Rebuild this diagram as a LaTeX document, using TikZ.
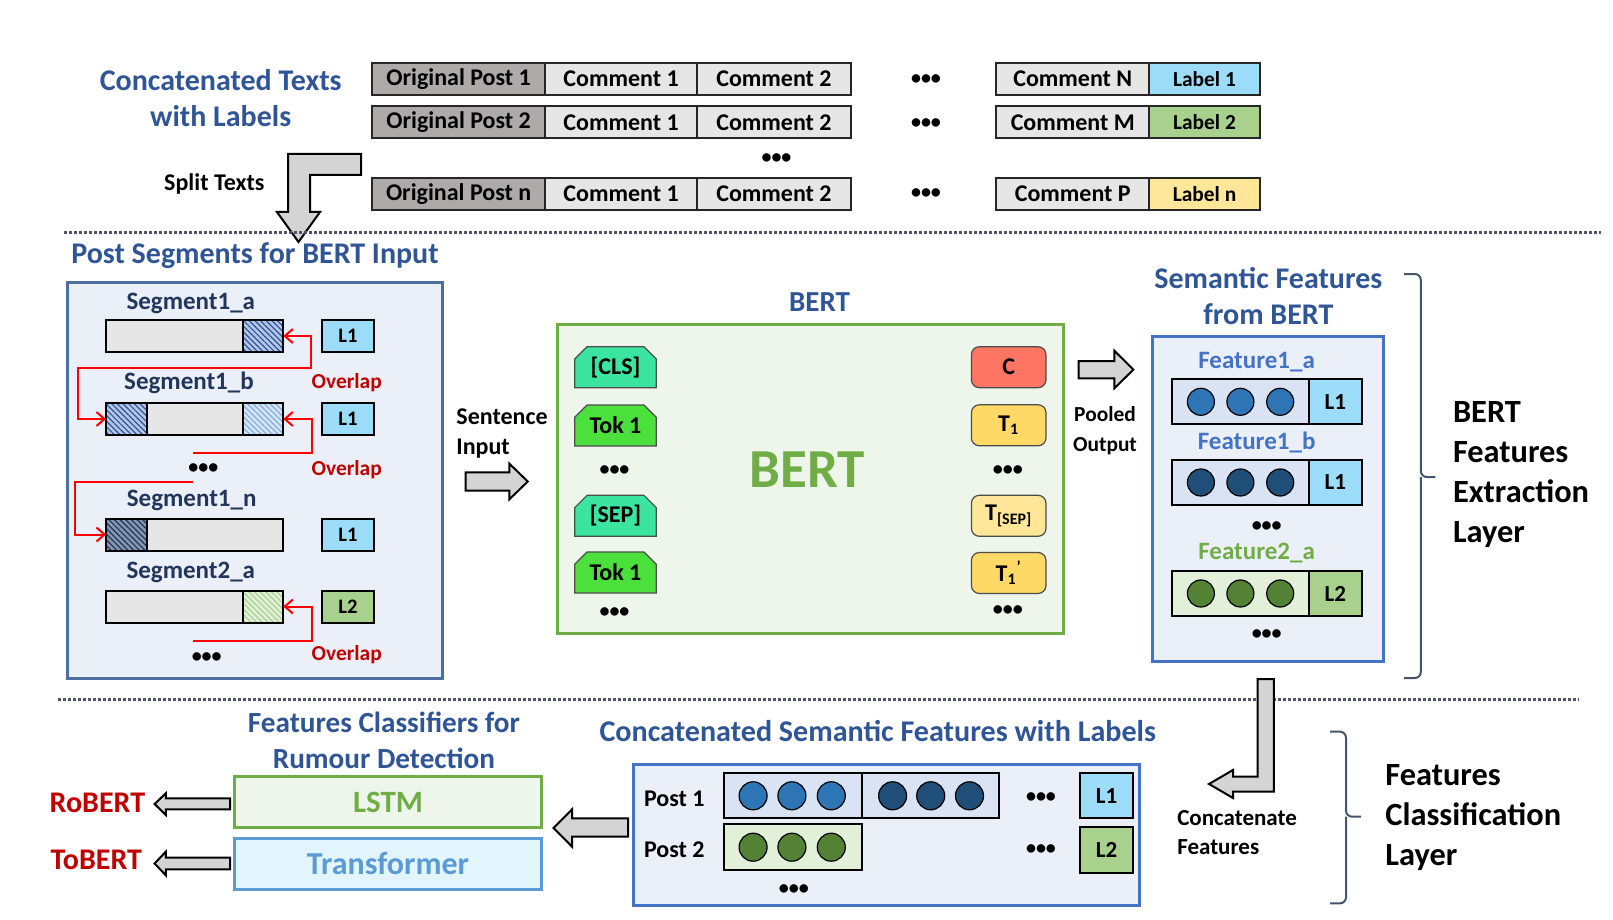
\documentclass[tikz,border=0pt]{standalone}
\usepackage{fontspec}
\setmainfont{Carlito}
\usetikzlibrary{arrows.meta,patterns.meta,shapes.misc}
\newcommand{\fsz}[2]{\fontsize{#1}{#2}\selectfont}
\definecolor{titleblue}{HTML}{2F5597}
\definecolor{segnavy}{HTML}{22355A}
\definecolor{opgray}{HTML}{AEAAAA}
\definecolor{cmgray}{HTML}{E7E6E6}
\definecolor{lab1}{HTML}{9DDCF9}
\definecolor{lab2}{HTML}{A9D18E}
\definecolor{labn}{HTML}{FFE699}
\definecolor{panelfill}{HTML}{EBEFF7}
\definecolor{steel}{HTML}{4E6E9F}
\definecolor{featblue}{HTML}{4472C4}
\definecolor{featgreen}{HTML}{70AD47}
\definecolor{bertfill}{HTML}{EEF5EA}
\definecolor{clscol}{HTML}{3BE5A0}
\definecolor{tokcol}{HTML}{4CE03C}
\definecolor{ccol}{HTML}{FF7563}
\definecolor{tcol}{HTML}{FFD966}
\definecolor{featbox}{HTML}{DAE3F3}
\definecolor{featgbox}{HTML}{E2F0D9}
\definecolor{circa}{HTML}{2E75B6}
\definecolor{circb}{HTML}{1F4E79}
\definecolor{circc}{HTML}{548235}
\definecolor{hatcha}{HTML}{B4C7E7}
\definecolor{hatchd}{HTML}{8497B0}
\definecolor{transfill}{HTML}{E2F5FC}
\definecolor{transline}{HTML}{5B9BD5}
\definecolor{darkred}{HTML}{C00000}
\definecolor{arrowgray}{HTML}{D4D4D4}
\definecolor{bracecol}{HTML}{44546A}
\definecolor{sepcol}{HTML}{4D5566}
\begin{document}
\begin{tikzpicture}[x=0.5pt,y=-0.5pt,
    every node/.style={font=\bfseries},
    cell/.style={draw=black!85,line width=1pt,minimum height=16pt,inner sep=0pt,outer sep=0pt,font=\bfseries\fsz{12}{14}},
    lab/.style={cell,font=\bfseries\fsz{10.7}{12}},
    dots/.style={inner sep=0pt,font=\bfseries\fsz{10}{10}},
    ttl/.style={text=titleblue,align=center,font=\bfseries\fsz{#1}{18}},
    panel/.style={fill=panelfill,line width=1.5pt,inner sep=0pt},
    seglab/.style={text=segnavy,font=\bfseries\fsz{12.5}{14}},
    bar/.style={draw=black,fill=cmgray,line width=1pt,minimum width=88.65pt,minimum height=16pt,inner sep=0pt,outer sep=0pt},
    hatch/.style n args={2}{draw=black,line width=1pt,preaction={fill=#1},pattern={Lines[angle=-45,distance=2pt,line width=0.6pt]},pattern color=#2},
    lbox/.style={draw=black,line width=1pt,minimum width=26.15pt,minimum height=16pt,inner sep=0pt,font=\bfseries\fsz{10.3}{12}},
    ovl/.style={draw=red,line width=1pt},
    olap/.style={text=darkred,font=\bfseries\fsz{10.7}{12}},
    tokL/.style={chamfered rectangle,chamfered rectangle corners={north west,north east},chamfered rectangle xsep=3pt,draw=black!70,line width=0.6pt,minimum width=40.8pt,minimum height=20.5pt,inner sep=0pt,font=\bfseries\fsz{12}{12}},
    tokR/.style={rectangle,rounded corners=4pt,draw=black!70,line width=0.6pt,minimum width=37.3pt,minimum height=20.5pt,inner sep=0pt,font=\bfseries\fsz{12}{12}},
    barrow/.style={draw=black,fill=arrowgray,line width=1pt,line join=miter},
    plain/.style={align=left,font=\bfseries\fsz{#1}{15}},
    fbox/.style={draw=black,line width=1pt,minimum height=22.5pt,inner sep=0pt,outer sep=0pt},
    flab/.style={fbox,font=\bfseries\fsz{11.5}{12}},
    circ/.style={circle,draw=black,line width=0.6pt,minimum size=13.5pt,inner sep=0pt},
    clsbox/.style={line width=1.5pt,minimum width=153.85pt,minimum height=25.4pt,inner sep=0pt},
    layer/.style={align=left,inner sep=0pt,anchor=west,font=\bfseries\fsz{16.2}{19.85}},
    brc/.style={draw=bracecol,line width=1pt,rounded corners=3pt},
    sep/.style={draw=sepcol,line width=1.5pt,dash pattern=on 1.5pt off 1pt}]
\useasboundingbox (0,0) rectangle (1613,920);

% concatenated texts
\node[ttl=15] (cttl) at (220.7,98) {Concatenated Texts\\with Labels};
\node[cell,fill=opgray,minimum width=86.25pt] (op1) at (458.6,79) {Original Post 1};
\node[cell,fill=cmgray,minimum width=76.25pt] (cm11) at (621.1,79) {Comment 1};
\node[cell,fill=cmgray,minimum width=76.65pt] (cm12) at (774,79) {Comment 2};
\node[dots] (dt1) at (926,80) {•••};
\node[cell,fill=cmgray,minimum width=76.5pt] (cmN) at (1072.8,79) {Comment N};
\node[lab,fill=lab1,minimum width=55.25pt] (lb1) at (1204.5,79) {Label 1};
\node[cell,fill=opgray,minimum width=86.25pt] (op2) at (458.6,122.5) {Original Post 2};
\node[cell,fill=cmgray,minimum width=76.25pt] (cm21) at (621.1,122.5) {Comment 1};
\node[cell,fill=cmgray,minimum width=76.65pt] (cm22) at (774,122.5) {Comment 2};
\node[dots] (dt2) at (926,124) {•••};
\node[cell,fill=cmgray,minimum width=76.5pt] (cmM) at (1072.8,122.5) {Comment M};
\node[lab,fill=lab2,minimum width=55.25pt] (lb2) at (1204.5,122.5) {Label 2};
\node[dots] (dt3) at (776.5,159) {•••};
\node[cell,fill=opgray,minimum width=86.25pt] (opn) at (458.6,194) {Original Post n};
\node[cell,fill=cmgray,minimum width=76.25pt] (cmn1) at (621.1,194) {Comment 1};
\node[cell,fill=cmgray,minimum width=76.65pt] (cmn2) at (774,194) {Comment 2};
\node[dots] (dt4) at (926,194) {•••};
\node[cell,fill=cmgray,minimum width=76.5pt] (cmP) at (1072.8,194) {Comment P};
\node[lab,fill=labn,minimum width=55.25pt] (lbn) at (1204.5,194) {Label n};

\node[plain=12] (split) at (214.3,184) {Split Texts};
\draw[barrow] (361,154) -- (288,154) -- (288,212) -- (277,212) -- (298.5,242) -- (320,212) -- (310,212) -- (310,175) -- (361,175) -- cycle;
\draw[sep] (64,232.7) -- (1601,232.7);

% post segments
\node[ttl=15] (segttl) at (255,256) {Post Segments for BERT Input};
\node[panel,draw=steel,minimum width=187.5pt,minimum height=198pt] (segbox) at (254.5,480) {};
\node[seglab] (s1a) at (190.8,303) {Segment1\_a};
\node[bar] (seg1a) at (194.65,336) {};
\draw[hatch={hatcha}{titleblue}] ([xshift=-20pt]seg1a.north east) rectangle (seg1a.south east);
\node[lbox,fill=lab1] (l1a) at (347.9,336) {L1};
\node[seglab] (s1b) at (189,383.3) {Segment1\_b};
\node[bar] (seg1b) at (194.65,419) {};
\draw[hatch={hatcha}{titleblue}] (seg1b.north west) rectangle ([xshift=20.35pt]seg1b.south west);
\draw[hatch={featbox}{transline!80}] ([xshift=-20pt]seg1b.north east) rectangle (seg1b.south east);
\node[lbox,fill=lab1] (l1b) at (347.9,419) {L1};
\node[seglab] (s1n) at (191.7,500) {Segment1\_n};
\node[bar] (seg1n) at (194.65,534.5) {};
\draw[hatch={hatchd}{segnavy}] (seg1n.north west) rectangle ([xshift=20.35pt]seg1n.south west);
\node[lbox,fill=lab1] (l1n) at (347.9,534.5) {L1};
\node[seglab] (s2a) at (190.8,572.7) {Segment2\_a};
\node[bar] (seg2a) at (194.65,606.5) {};
\draw[hatch={featgbox}{lab2}] ([xshift=-20pt]seg2a.north east) rectangle (seg2a.south east);
\node[lbox,fill=lab2] (l2a) at (347.9,606.5) {L2};
\node[dots] (sd1) at (203.3,468.3) {•••};
\node[dots] (sd2) at (206.7,657.7) {•••};
\coordinate (gap1) at (193.3,452.7);
\coordinate (gap2) at (193.3,482.3);
\coordinate (gap3) at (193.3,641);
\draw[ovl,{Straight Barb[length=4pt,width=7pt]}-{Straight Barb[length=4pt,width=7pt]}] (seg1a.east) -- ++(28,0) |- (78.3,368.3) |- (seg1b.west);
\draw[ovl,{Straight Barb[length=4pt,width=7pt]}-] (seg1b.east) -- ++(29,0) |- (gap1);
\draw[ovl,-{Straight Barb[length=4pt,width=7pt]}] (gap2) -- (75,482.3) |- (seg1n.west);
\draw[ovl,{Straight Barb[length=4pt,width=7pt]}-] (seg2a.east) -- ++(29,0) |- (gap3);
\node[olap] (ov1) at (346.7,382.7) {Overlap};
\node[olap] (ov2) at (346.7,469.3) {Overlap};
\node[olap] (ov3) at (346.7,654.3) {Overlap};

% bert
\node[plain=12] (sent) at (502,433.3) {Sentence\\Input};
\draw[barrow] (465.7,472.3) -- (509.4,472.3) -- (509.4,463.7) -- (527.8,481.5) -- (509.4,499.3) -- (509.4,490.7) -- (465.7,490.7) -- cycle;
\node[ttl=14.5] (bertttl) at (819.6,301.7) {BERT};
\node[draw=featgreen,fill=bertfill,line width=1.5pt,minimum width=253pt,minimum height=154.5pt,inner sep=0pt] (bert) at (810,478.8) {};
\node[text=featgreen,font=\bfseries\fsz{27.5}{28}] (bertword) at (807.3,470) {BERT};
\node[tokL,fill=clscol] (cls) at (615.5,367.2) {[CLS]};
\node[tokL,fill=tokcol] (tok1) at (615.5,425.5) {Tok 1};
\node[dots] (td1) at (614.5,471) {•••};
\node[tokL,fill=clscol] (sepL) at (615.5,515.8) {[SEP]};
\node[tokL,fill=tokcol] (tok2) at (615.5,572.5) {Tok 1};
\node[dots] (td2) at (614.5,612.7) {•••};
\node[tokR,fill=ccol] (cC) at (1008.7,367.2) {C};
\node[tokR,fill=tcol] (t1) at (1008.7,425.3) {T\textsubscript{1}};
\node[dots] (td3) at (1007.8,471) {•••};
\node[tokR,fill=labn] (tsep) at (1008.7,515.8) {T\textsubscript{[SEP]}};
\node[tokR,fill=tcol] (t1b) at (1008.7,573) {T\textsubscript{1}\textsuperscript{'}};
\node[dots] (td4) at (1007.8,611) {•••};

% semantic features
\node[plain=10.7,align=center] (pool) at (1105,430.5) {Pooled\\Output};
\draw[barrow] (1078.7,361) -- (1114.3,361) -- (1114.3,350.7) -- (1133.4,369.6) -- (1114.3,388.3) -- (1114.3,378.3) -- (1078.7,378.3) -- cycle;
\node[ttl=15] (semttl) at (1268.4,295.8) {Semantic Features\\from BERT};
\node[panel,draw=featblue,minimum width=115.5pt,minimum height=162.2pt] (featpanel) at (1267.9,498.9) {};
\node[text=featblue,font=\bfseries\fsz{12.5}{14}] (f1attl) at (1256.6,361.7) {Feature1\_a};
\node[fbox,fill=featbox,minimum width=68.4pt] (f1a) at (1240.5,401.8) {};
\node[flab,fill=lab1,minimum width=26.5pt] (f1al) at (1335.4,401.8) {L1};
\node[circ,fill=circa] (f1a1) at (1200.9,401.8) {};
\node[circ,fill=circa] (f1a2) at (1240.4,401.8) {};
\node[circ,fill=circa] (f1a3) at (1280.2,401.8) {};
\node[text=featblue,font=\bfseries\fsz{12.5}{14}] (f1bttl) at (1256.6,442.7) {Feature1\_b};
\node[fbox,fill=featbox,minimum width=68.4pt] (f1b) at (1240.5,482.5) {};
\node[flab,fill=lab1,minimum width=26.5pt] (f1bl) at (1335.4,482.5) {L1};
\node[circ,fill=circb] (f1b1) at (1200.9,482.5) {};
\node[circ,fill=circb] (f1b2) at (1240.4,482.5) {};
\node[circ,fill=circb] (f1b3) at (1280.2,482.5) {};
\node[dots] (fd1) at (1266.7,526.7) {•••};
\node[text=featgreen,font=\bfseries\fsz{12.5}{14}] (f2attl) at (1256.6,553.3) {Feature2\_a};
\node[fbox,fill=featgbox,minimum width=68.4pt] (f2a) at (1240.5,593.5) {};
\node[flab,fill=lab2,minimum width=26.5pt] (f2al) at (1335.4,593.5) {L2};
\node[circ,fill=circc] (f2a1) at (1200.9,593.5) {};
\node[circ,fill=circc] (f2a2) at (1240.4,593.5) {};
\node[circ,fill=circc] (f2a3) at (1280.2,593.5) {};
\node[dots] (fd2) at (1266.7,634.3) {•••};
\draw[brc] (1404,274) -| (1420.8,477) -- (1435.3,477);
\draw[brc] (1404,678) -| (1420.8,477);
\node[layer] (extr) at (1452.6,474.5) {BERT\\Features\\Extraction\\Layer};

\draw[sep] (58,699) -- (1579,699);

% classification
\node[ttl=14.6] (clsttl) at (384,740) {Features Classifiers for\\Rumour Detection};
\node[clsbox,draw=featgreen,fill=bertfill,text=featgreen,font=\bfseries\fsz{15.5}{16}] (lstm) at (388,802) {LSTM};
\node[clsbox,draw=transline,fill=transfill,text=transline,font=\bfseries\fsz{16}{16}] (trans) at (388,863.8) {Transformer};
\node[text=darkred,font=\bfseries\fsz{15}{16}] (robert) at (97.4,803.3) {RoBERT};
\node[text=darkred,font=\bfseries\fsz{15}{16}] (tobert) at (96.3,860) {ToBERT};
\draw[barrow] (230,798.3) -- (165.8,798.3) -- (165.8,793.3) -- (154.6,804) -- (165.8,815) -- (165.8,809.3) -- (230,809.3) -- cycle;
\draw[barrow] (230,857.7) -- (165.8,857.7) -- (165.8,851.7) -- (154.6,863.5) -- (165.8,875.3) -- (165.8,869.3) -- (230,869.3) -- cycle;
\draw[barrow] (628.1,818.3) -- (572.1,818.3) -- (572.1,809.3) -- (553.5,828) -- (572.1,846.7) -- (572.1,836.7) -- (628.1,836.7) -- cycle;

\node[ttl=15.05] (catttl) at (877.8,731) {Concatenated Semantic Features with Labels};
\node[panel,draw=featblue,minimum width=252.9pt,minimum height=70.5pt] (catpanel) at (886.5,834.5) {};
\node[plain=12] (post1) at (674.3,798.3) {Post 1};
\node[plain=12] (post2) at (674.3,850) {Post 2};
\node[fbox,fill=featbox,minimum width=68.8pt] (p1a) at (792.8,795.8) {};
\node[fbox,fill=featbox,minimum width=68.5pt] (p1b) at (930.1,795.8) {};
\node[fbox,fill=featgbox,minimum width=68.8pt,minimum height=22.85pt] (p2a) at (792.8,847.2) {};
\node[circ,fill=circa,minimum size=14pt] (p1a1) at (753.1,795.8) {};
\node[circ,fill=circa,minimum size=14pt] (p1a2) at (791.9,795.8) {};
\node[circ,fill=circa,minimum size=14pt] (p1a3) at (831.3,795.8) {};
\node[circ,fill=circb,minimum size=14pt] (p1b1) at (892.6,795.8) {};
\node[circ,fill=circb,minimum size=14pt] (p1b2) at (930.7,795.8) {};
\node[circ,fill=circb,minimum size=14pt] (p1b3) at (969.5,795.8) {};
\node[circ,fill=circc,minimum size=14pt] (p2a1) at (753.1,847.2) {};
\node[circ,fill=circc,minimum size=14pt] (p2a2) at (791.9,847.2) {};
\node[circ,fill=circc,minimum size=14pt] (p2a3) at (831.3,847.2) {};
\node[dots] (cd1) at (1041,797.3) {•••};
\node[dots] (cd2) at (1041,849.3) {•••};
\node[dots] (cd3) at (793.8,889.3) {•••};
\node[flab,fill=lab1,minimum width=26.5pt] (pl1) at (1106.5,795.8) {L1};
\node[flab,fill=lab2,minimum width=26.5pt,minimum height=23pt] (pl2) at (1106.5,849.7) {L2};

\draw[barrow] (1257.6,679) -- (1273.8,679) -- (1273.8,791.7) -- (1233,791.7) -- (1233,798) -- (1209,784) -- (1233,770) -- (1233,776.7) -- (1257.6,776.7) -- cycle;
\node[align=left,inner sep=0pt,anchor=west,font=\bfseries\fsz{11.5}{14.2}] (catf) at (1176.9,832.5) {Concatenate\\Features};
\draw[brc] (1330,731.7) -| (1346,816.7) -- (1361,816.7);
\draw[brc] (1330,903.3) -| (1346,816.7);
\node[layer] (clslayer) at (1385,817.5) {Features\\Classification\\Layer};
\end{tikzpicture}
\end{document}
